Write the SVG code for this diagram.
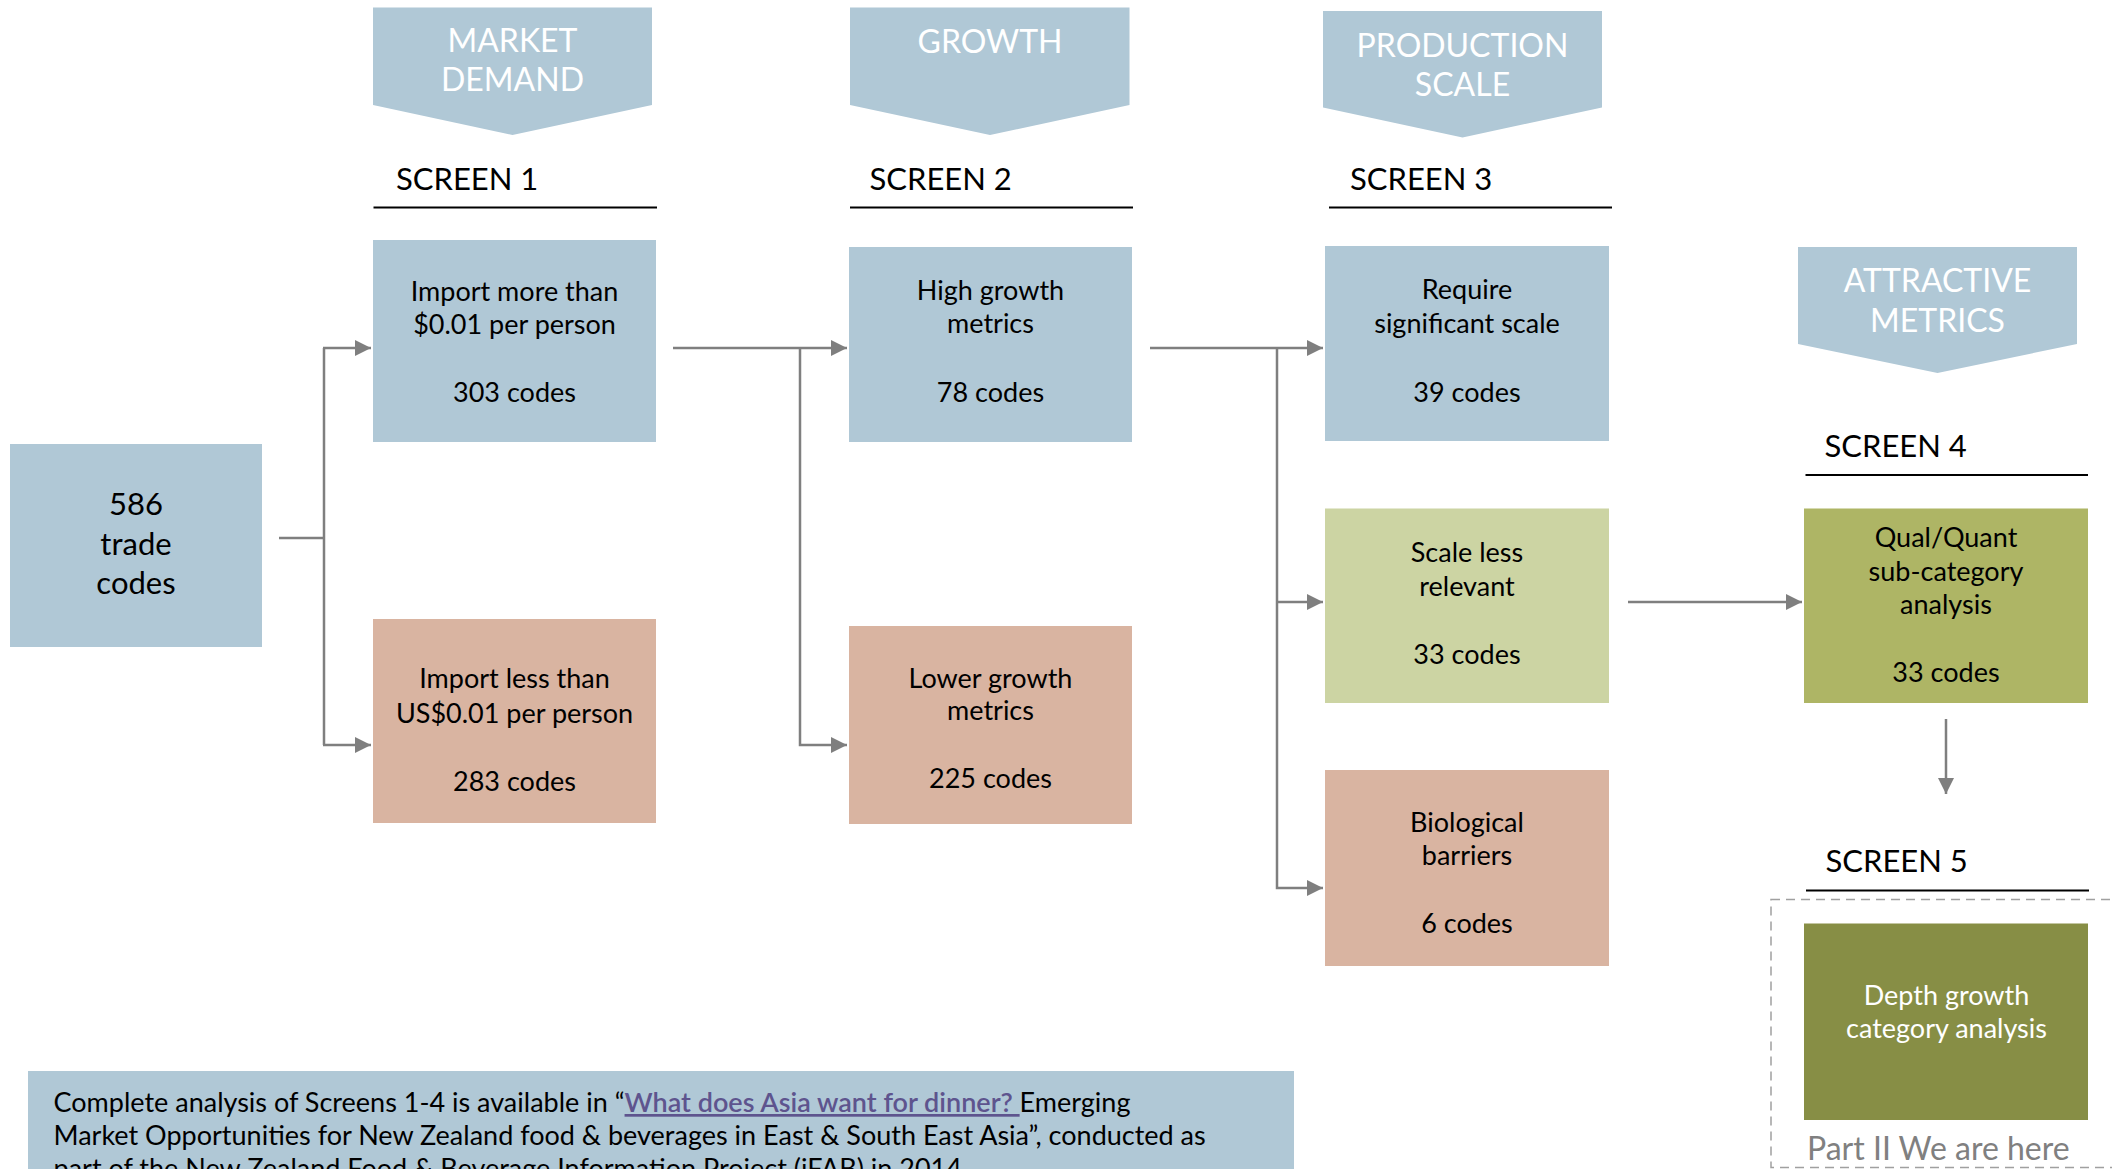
<svg xmlns="http://www.w3.org/2000/svg" width="2112" height="1169" viewBox="0 0 2112 1169">
<style>
text{font-family:Lato,"Liberation Sans",sans-serif;}
.chev{fill:#b0c8d6;}
.chevt{fill:#ffffff;font-size:32px;text-anchor:middle;}
.scr{fill:#000;font-size:31px;}
.rule{stroke:#000;stroke-width:2;}
.blue{fill:#b0c8d6;}
.peach{fill:#d9b4a1;}
.lgreen{fill:#ccd4a3;}
.olive{fill:#aeb565;}
.dolive{fill:#878e45;}
.bt{fill:#000;font-size:27px;text-anchor:middle;}
.wt{fill:#fff;font-size:27px;text-anchor:middle;}
.conn{stroke:#7f7f7f;stroke-width:2.5;fill:none;}
.foot{fill:#000;font-size:27px;}
.link{fill:#5e548e;text-decoration:underline;font-weight:600;}
</style>
<defs>
<marker id="arr" markerUnits="userSpaceOnUse" markerWidth="17" markerHeight="17" refX="16" refY="8" orient="auto">
<path d="M0,0 L16,8 L0,16 z" fill="#7f7f7f"/>
</marker>
</defs>

<g id="hdr-market">
<polygon class="chev" points="373,7.5 652,7.5 652,105 512.5,135 373,105"/>
<text class="chevt" x="512.5" y="52">MARKET</text>
<text class="chevt" x="512.5" y="91">DEMAND</text>
</g>
<g id="hdr-growth">
<polygon class="chev" points="850,7.5 1129.5,7.5 1129.5,105 990,135 850,105"/>
<text class="chevt" x="990" y="53">GROWTH</text>
</g>
<g id="hdr-production">
<polygon class="chev" points="1323,11 1602,11 1602,107.5 1462.5,137.5 1323,107.5"/>
<text class="chevt" x="1462.5" y="57">PRODUCTION</text>
<text class="chevt" x="1462.5" y="96">SCALE</text>
</g>
<g id="hdr-attractive">
<polygon class="chev" points="1798,247 2077,247 2077,344 1937.5,373 1798,344"/>
<text class="chevt" x="1937.5" y="292">ATTRACTIVE</text>
<text class="chevt" x="1937.5" y="332">METRICS</text>
</g>

<g id="screen1">
<text class="scr" x="396" y="190">SCREEN 1</text>
<line class="rule" x1="373.5" y1="207.5" x2="657" y2="207.5"/>
</g>
<g id="screen2">
<text class="scr" x="869.5" y="190">SCREEN 2</text>
<line class="rule" x1="850" y1="207.5" x2="1133" y2="207.5"/>
</g>
<g id="screen3">
<text class="scr" x="1350" y="189.5">SCREEN 3</text>
<line class="rule" x1="1329" y1="207.5" x2="1612" y2="207.5"/>
</g>
<g id="screen4">
<text class="scr" x="1824.5" y="457">SCREEN 4</text>
<line class="rule" x1="1805.5" y1="475" x2="2088" y2="475"/>
</g>
<g id="screen5">
<text class="scr" x="1825.5" y="872">SCREEN 5</text>
<line class="rule" x1="1806" y1="890.5" x2="2089" y2="890.5"/>
</g>

<g id="connectors">
<path class="conn" d="M279,538 H324"/>
<path class="conn" d="M324,348 V745"/>
<path class="conn" d="M323,348 H371" marker-end="url(#arr)"/>
<path class="conn" d="M323,745 H371" marker-end="url(#arr)"/>
<path class="conn" d="M673,348 H847" marker-end="url(#arr)"/>
<path class="conn" d="M800,348 V745 H847" marker-end="url(#arr)"/>
<path class="conn" d="M1150,348 H1323" marker-end="url(#arr)"/>
<path class="conn" d="M1277,348 V888 H1323" marker-end="url(#arr)"/>
<path class="conn" d="M1276,602 H1323" marker-end="url(#arr)"/>
<path class="conn" d="M1628,602 H1802" marker-end="url(#arr)"/>
<path class="conn" d="M1946,719 V794" marker-end="url(#arr)"/>
</g>

<g id="n-586">
<rect class="blue" x="10" y="444" width="252" height="203"/>
<text class="bt" x="136" y="515" style="font-size:31px">586</text>
<text class="bt" x="136" y="555" style="font-size:31px">trade</text>
<text class="bt" x="136" y="594" style="font-size:31px">codes</text>
</g>
<g id="n-import-more">
<rect class="blue" x="373" y="240" width="283" height="202"/>
<text class="bt" x="514.5" y="301">Import more than</text>
<text class="bt" x="514.5" y="334">$0.01 per person</text>
<text class="bt" x="514.5" y="402">303 codes</text>
</g>
<g id="n-import-less">
<rect class="peach" x="373" y="619" width="283" height="204"/>
<text class="bt" x="514.5" y="688">Import less than</text>
<text class="bt" x="514.5" y="723">US$0.01 per person</text>
<text class="bt" x="514.5" y="791">283 codes</text>
</g>
<g id="n-high-growth">
<rect class="blue" x="849" y="247" width="283" height="195"/>
<text class="bt" x="990.5" y="300">High growth</text>
<text class="bt" x="990.5" y="333">metrics</text>
<text class="bt" x="990.5" y="402">78 codes</text>
</g>
<g id="n-lower-growth">
<rect class="peach" x="849" y="626" width="283" height="198"/>
<text class="bt" x="990.5" y="688">Lower growth</text>
<text class="bt" x="990.5" y="720">metrics</text>
<text class="bt" x="990.5" y="788">225 codes</text>
</g>
<g id="n-require">
<rect class="blue" x="1325" y="246" width="284" height="195"/>
<text class="bt" x="1467" y="299">Require</text>
<text class="bt" x="1467" y="333">significant scale</text>
<text class="bt" x="1467" y="402">39 codes</text>
</g>
<g id="n-scale-less">
<rect class="lgreen" x="1325" y="508.5" width="284" height="194.5"/>
<text class="bt" x="1467" y="562">Scale less</text>
<text class="bt" x="1467" y="596">relevant</text>
<text class="bt" x="1467" y="664">33 codes</text>
</g>
<g id="n-biological">
<rect class="peach" x="1325" y="770" width="284" height="196"/>
<text class="bt" x="1467" y="831.5">Biological</text>
<text class="bt" x="1467" y="864.5">barriers</text>
<text class="bt" x="1467" y="932.5">6 codes</text>
</g>
<g id="n-qual-quant">
<rect class="olive" x="1804" y="508.5" width="284" height="194.5"/>
<text class="bt" x="1946" y="547">Qual/Quant</text>
<text class="bt" x="1946" y="581">sub-category</text>
<text class="bt" x="1946" y="614">analysis</text>
<text class="bt" x="1946" y="682">33 codes</text>
</g>
<g id="n-depth">
<rect x="1771" y="899.5" width="400" height="268" fill="none" stroke="#a0a0a0" stroke-width="1.5" stroke-dasharray="9 6"/>
<rect class="dolive" x="1804" y="923.5" width="284" height="196.5"/>
<text class="wt" x="1946.5" y="1005">Depth growth</text>
<text class="wt" x="1946.5" y="1038">category analysis</text>
<text x="1807" y="1160" style="font-size:32px;fill:#808080">Part II We are here</text>
</g>

<g id="footer">
<rect class="blue" x="28" y="1071" width="1266" height="130"/>
<text class="foot" x="53.5" y="1112">Complete analysis of Screens 1-4 is available in “<tspan class="link">What does Asia want for dinner? </tspan>Emerging</text>
<text class="foot" x="53.5" y="1145">Market Opportunities for New Zealand food &amp; beverages in East &amp; South East Asia”, conducted as</text>
<text class="foot" x="53.5" y="1178">part of the New Zealand Food &amp; Beverage Information Project (iFAB) in 2014</text>
</g>
</svg>
